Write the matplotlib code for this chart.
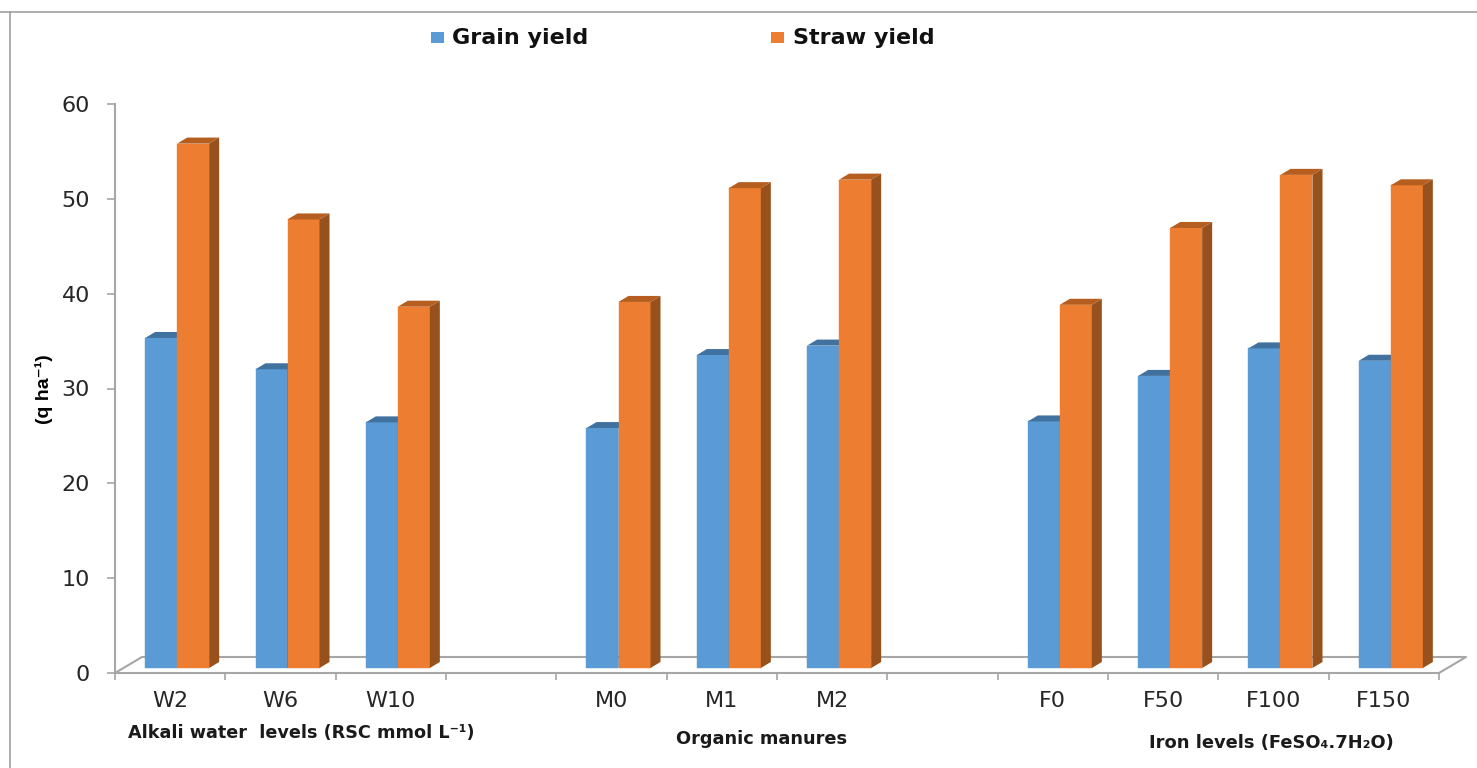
import matplotlib
matplotlib.use('Agg')
import matplotlib.pyplot as plt
from matplotlib.patches import Polygon, Rectangle

categories = ['W2', 'W6', 'W10', '', 'M0', 'M1', 'M2', '', 'F0', 'F50', 'F100', 'F150']
grain_yield = [34.8, 31.5, 25.9, None, 25.3, 33.0, 34.0, None, 26.0, 30.8, 33.7, 32.4]
straw_yield = [55.3, 47.3, 38.1, None, 38.6, 50.6, 51.5, None, 38.3, 46.4, 52.0, 50.9]
y_ticks = [0, 10, 20, 30, 40, 50, 60]

W, H = 1477, 768
X0, X1 = 115, 1439   # pixel span of the front floor edge
Y0, Y60 = 673, 104   # pixel span of the value axis
PX = 12 / (X1 - X0)
PY = 60 / (Y0 - Y60)

BLUE = '#5b9bd5'
ORANGE = '#ed7d31'
GRAY = '#a6a6a6'
TEXT = '#262626'

plt.rcParams['font.family'] = ['DejaVu Sans']

fig = plt.figure(figsize=(W / 100, H / 100), dpi=100)
ax = fig.add_axes([X0 / W, 1 - Y0 / H, (X1 - X0) / W, (Y0 - Y60) / H])
ax.set_xlim(0, 12)
ax.set_ylim(0, 60)
ax.patch.set_alpha(0)
for name in ['top', 'right']:
    ax.spines[name].set_visible(False)
for name in ['left', 'bottom']:
    ax.spines[name].set_color(GRAY)
    ax.spines[name].set_linewidth(1.5)

# depth of the fake 3D in data units
bar_w = 32 * PX
shift = 7 * PX
lift = 5 * PY
side_dx = 10 * PX
side_dy = 6 * PY
floor_dx = 27 * PX
floor_dy = 16 * PY


def bar3d(x, val, col, side, top):
    ax.bar(x, val, bar_w, bottom=lift, align='edge', color=col, ec=col, lw=0.3, zorder=3)
    y = val + lift
    ax.add_patch(Polygon([(x + bar_w, lift), (x + bar_w + side_dx, lift + side_dy),
                          (x + bar_w + side_dx, y + side_dy), (x + bar_w, y)],
                         closed=True, fc=side, ec='none', zorder=3))
    ax.add_patch(Polygon([(x, y), (x + side_dx, y + side_dy),
                          (x + bar_w + side_dx, y + side_dy), (x + bar_w, y)],
                         closed=True, fc=top, ec='none', zorder=3))


for i in range(len(categories)):
    if grain_yield[i] is None:
        continue
    bar3d(i + 0.5 + shift - bar_w, grain_yield[i], BLUE, '#2f6ea5', '#41729f')
    bar3d(i + 0.5 + shift, straw_yield[i], ORANGE, '#97511d', '#b55e20')

# floor of the 3D box
ax.plot([0, floor_dx, 12 + floor_dx, 12], [0, floor_dy, floor_dy, 0],
        color=GRAY, lw=1.5, clip_on=False, zorder=1)

ax.set_yticks(y_ticks)
ax.set_xticks(range(13))
ax.set_xticklabels([])
ax.tick_params(axis='x', length=5, width=1.2, color=GRAY)
ax.tick_params(axis='y', length=6, width=1.2, color=GRAY, labelsize=16,
               labelcolor=TEXT, pad=12)

for i, c in enumerate(categories):
    ax.text(i + 0.5, -2.95, c, ha='center', va='center', fontsize=16, color=TEXT)

fig.text(44 / W, 1 - 389 / H, '(q ha⁻¹)', rotation=90, ha='center', va='center',
         fontsize=14, fontweight='bold', family=['Liberation Sans', 'DejaVu Sans'], color='black')

fig.text(301 / W, 1 - 733 / H, 'Alkali water  levels (RSC mmol L⁻¹)', ha='center', va='center',
         fontsize=12.7, fontweight='bold', color='#1a1a1a')
fig.text(762 / W, 1 - 739 / H, 'Organic manures', ha='center', va='center',
         fontsize=12.8, fontweight='bold', color='#1a1a1a')
fig.text(1271 / W, 1 - 743 / H, 'Iron levels (FeSO₄.7H₂O)', ha='center', va='center',
         fontsize=12.9, fontweight='bold', color='#1a1a1a')

# legend, placed by hand like the source
for lx, txt, tx, col in [(431, 'Grain yield', 452, BLUE), (771, 'Straw yield', 793, ORANGE)]:
    fig.add_artist(Rectangle((lx / W, 1 - 43 / H), 13 / W, 11 / H, fc=col, ec='none',
                             transform=fig.transFigure))
    fig.text(tx / W, 1 - 38 / H, txt, ha='left', va='center', fontsize=16, fontweight='bold', color='#111111')

# outer frame
fig.add_artist(plt.Line2D([0, 1], [1 - 11.5 / H, 1 - 11.5 / H], color='#a0a0a0', lw=1.2))
fig.add_artist(plt.Line2D([9.5 / W, 9.5 / W], [0, 1 - 11.5 / H], color='#a0a0a0', lw=1.2))

fig.savefig('out.png', dpi=100)
